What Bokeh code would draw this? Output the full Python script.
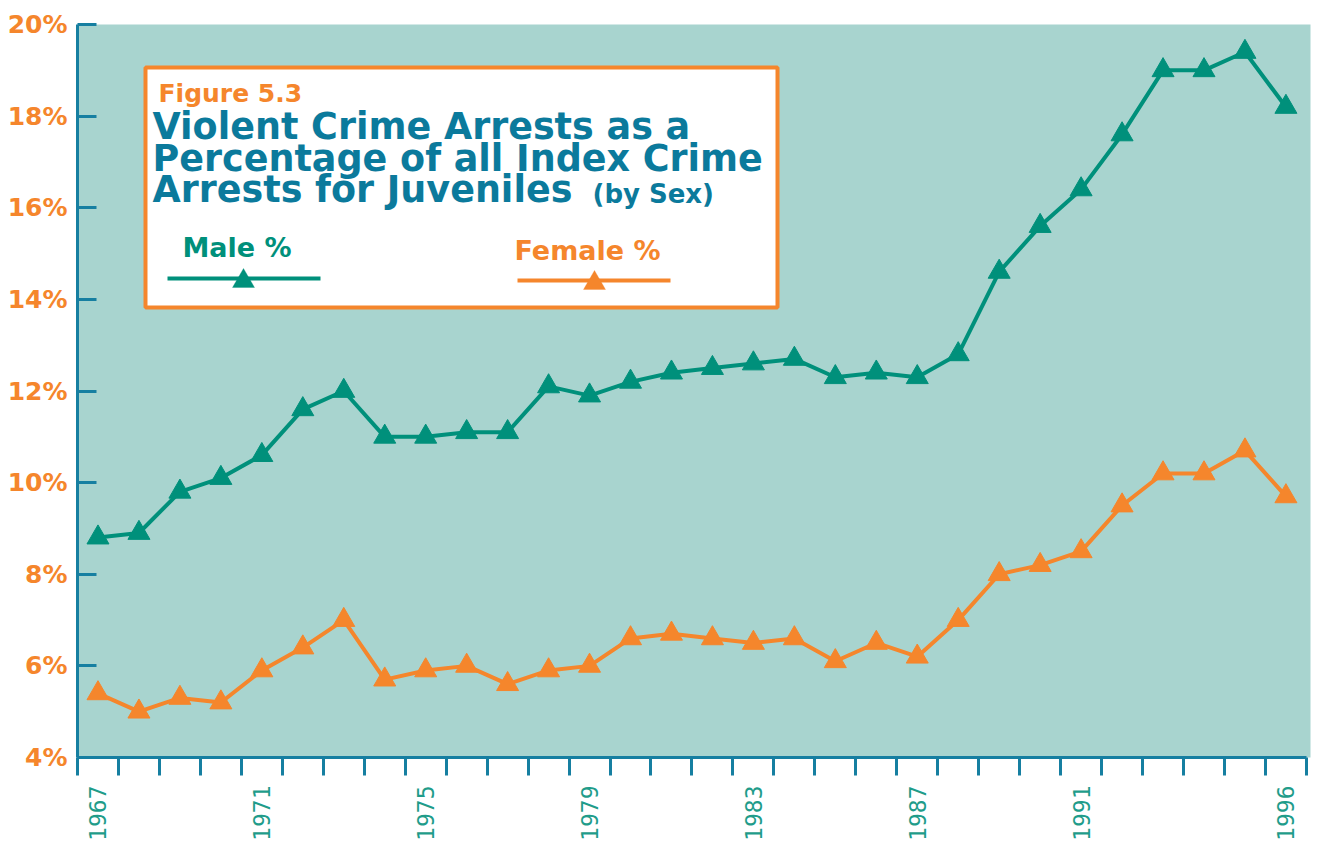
import math
from bokeh.plotting import figure
from bokeh.models import (Range1d, FixedTicker, PrintfTickFormatter, BoxAnnotation,
                          Label, Arrow, PolyAnnotation)
from bokeh.embed import file_html
from bokeh.resources import INLINE

# ---------------- data ----------------
years = list(range(1967, 1997))
male_pct = [8.8, 8.9, 9.8, 10.1, 10.6, 11.6, 12.0, 11.0, 11.0, 11.1,
            11.1, 12.1, 11.9, 12.2, 12.4, 12.5, 12.6, 12.7, 12.3, 12.4,
            12.3, 12.8, 14.6, 15.6, 16.4, 17.6, 19.0, 19.0, 19.4, 18.2]
female_pct = [5.4, 5.0, 5.3, 5.2, 5.9, 6.4, 7.0, 5.7, 5.9, 6.0,
              5.6, 5.9, 6.0, 6.6, 6.7, 6.6, 6.5, 6.6, 6.1, 6.5,
              6.2, 7.0, 8.0, 8.2, 8.5, 9.5, 10.2, 10.2, 10.7, 9.7]
label_years = [1967, 1971, 1975, 1979, 1983, 1987, 1991, 1996]
y_ticks = [4, 6, 8, 10, 12, 14, 16, 18, 20]

# ---------------- style ----------------
BG = "#a8d4cf"
AXIS = "#167fa1"
ORANGE = "#f5862c"
TEAL = "#00907b"
BLUE = "#0b7a9c"
XLAB = "#1f9c8a"

FRAME_L, FRAME_T = 77, 24
FW, FH = 1233, 733
X0, X1, Y0, Y1 = 1966.5, 1996.6, 4, 20

p = figure(frame_width=FW, frame_height=FH, output_backend="svg", toolbar_location=None,
           x_range=Range1d(X0, X1), y_range=Range1d(Y0, Y1),
           min_border_left=FRAME_L, min_border_top=FRAME_T, min_border_right=8, min_border_bottom=10)
p.background_fill_color = BG
p.border_fill_color = "white"
p.outline_line_color = None
p.xgrid.visible = False
p.ygrid.visible = False

# x axis
xa = p.xaxis[0]
xa.ticker = FixedTicker(ticks=label_years, minor_ticks=[y - 0.5 for y in years] + [1996.5])
xa.bounds = (1966.5, 1996.5)
xa.axis_line_color = AXIS
xa.axis_line_width = 3
xa.major_tick_out = 0
xa.major_tick_in = 0
xa.minor_tick_out = 18
xa.minor_tick_in = 0
xa.minor_tick_line_color = AXIS
xa.minor_tick_line_width = 3
xa.major_label_orientation = math.pi / 2
xa.major_label_standoff = 10
xa.major_label_text_font = "DejaVu Sans Mono"
xa.major_label_text_font_size = "23px"
xa.major_label_text_color = XLAB

# y axis
ya = p.yaxis[0]
ya.ticker = FixedTicker(ticks=y_ticks)
ya.formatter = PrintfTickFormatter(format="%d%%")
ya.axis_line_color = AXIS
ya.axis_line_width = 3
ya.major_tick_in = 19
ya.major_tick_out = 0
ya.major_tick_line_color = AXIS
ya.major_tick_line_width = 3
ya.minor_tick_line_color = None
ya.major_label_standoff = 10
ya.major_label_text_font = "DejaVu Sans"
ya.major_label_text_font_style = "bold"
ya.major_label_text_font_size = "25px"
ya.major_label_text_color = ORANGE

# series
p.line(years, male_pct, line_color=TEAL, line_width=4)
p.scatter(years, male_pct, marker="triangle", size=22, fill_color=TEAL, line_color=TEAL)
p.line(years, female_pct, line_color=ORANGE, line_width=4)
p.scatter(years, female_pct, marker="triangle", size=22, fill_color=ORANGE, line_color=ORANGE)


# ---------------- title / legend box ----------------
def dx(px):
    return X0 + (px - FRAME_L) * (X1 - X0) / FW


def dy(py):
    return Y1 - (py - FRAME_T) * (Y1 - Y0) / FH


p.add_layout(BoxAnnotation(left=dx(145), right=dx(777), top=dy(67), bottom=dy(307),
                           fill_color="white", fill_alpha=1, line_color=ORANGE,
                           line_width=4, line_alpha=1))


def txt(s, px, py, size, color):
    p.add_layout(Label(x=dx(px), y=dy(py), text=s, text_font="DejaVu Sans",
                       text_font_style="bold", text_font_size=size, text_color=color,
                       text_align="left", text_baseline="middle"))


txt("Figure 5.3", 158, 93, "25px", ORANGE)
txt("Violent Crime Arrests as a", 152, 126, "36.5px", BLUE)
txt("Percentage of all Index Crime", 152, 158, "36.5px", BLUE)
txt("Arrests for Juveniles", 152, 189, "36.5px", BLUE)
txt("(by Sex)", 592, 193, "26px", BLUE)
txt("Male %", 182, 247, "27px", TEAL)
txt("Female %", 514, 250, "27px", ORANGE)


def sample(x_left, x_right, py, cx, color):
    p.add_layout(Arrow(end=None, x_start=dx(x_left), x_end=dx(x_right), y_start=dy(py), y_end=dy(py),
                       line_color=color, line_width=4))
    p.add_layout(PolyAnnotation(xs=[dx(cx - 11), dx(cx + 11), dx(cx)],
                                ys=[dy(py + 9), dy(py + 9), dy(py - 10)],
                                fill_color=color, fill_alpha=1, line_color=color, line_width=1))


sample(167, 320, 278, 243, TEAL)
sample(517, 670, 280, 594, ORANGE)

open("out.html", "w").write(file_html(p, INLINE))
